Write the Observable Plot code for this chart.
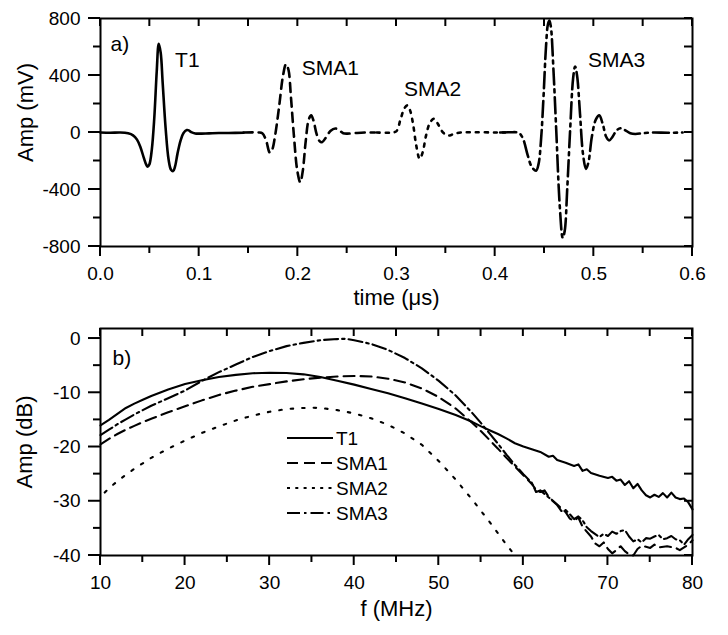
<!DOCTYPE html>
<html><head><meta charset="utf-8">
<script src="https://cdn.jsdelivr.net/npm/d3@7"></script>
<script src="https://cdn.jsdelivr.net/npm/@observablehq/plot@0.6"></script>
<style>
body{margin:0;background:#fff;}
#chart{position:relative;width:728px;height:635px;font-family:"Liberation Sans",Arial,Helvetica,sans-serif;}
#chart svg{display:block;}
</style></head><body><div id="chart"></div>
<script>
// ---------- Panel a): time waveforms (time in µs, amplitude in mV) ----------
const waveT1 = [[0,0],[0.010,-2],[0.020,0],[0.028,-6],[0.033,-20],[0.037,-50],[0.0405,-103],[0.044,-180],[0.0465,-228],[0.0478,-240],[0.0495,-225],[0.052,-120],[0.0545,100],[0.057,430],[0.059,622],[0.061,560],[0.063,350],[0.066,30],[0.069,-190],[0.0715,-262],[0.0736,-271],[0.0755,-240],[0.078,-150],[0.081,-60],[0.084,-5],[0.0875,17],[0.0895,15],[0.092,2],[0.096,-7],[0.10,-8],[0.11,-6],[0.12,-4],[0.13,-3],[0.145,-2]];
const waveSMA1 = [[0.145,0],[0.160,0],[0.164,-5],[0.168,-60],[0.1715,-140],[0.174,-120],[0.177,-20],[0.181,180],[0.185,400],[0.188,480],[0.1905,440],[0.193,250],[0.196,-20],[0.1995,-270],[0.2025,-350],[0.205,-270],[0.208,-60],[0.211,90],[0.2135,120],[0.216,80],[0.219,-10],[0.222,-60],[0.2245,-68],[0.228,-40],[0.233,10],[0.238,28],[0.242,15],[0.246,-5],[0.25,-8],[0.26,-3],[0.27,0],[0.278,0]];
const waveSMA2 = [[0.28,0],[0.295,0],[0.300,10],[0.304,90],[0.308,170],[0.311,190],[0.314,150],[0.317,50],[0.320,-90],[0.3235,-185],[0.3265,-140],[0.330,-20],[0.334,70],[0.338,96],[0.342,60],[0.346,10],[0.350,-15],[0.354,-21],[0.358,-10],[0.365,0],[0.38,2],[0.40,0],[0.41,0]];
const waveSMA3 = [[0.405,0],[0.415,2],[0.424,-3],[0.428,-40],[0.433,-160],[0.437,-240],[0.4415,-268],[0.444,-220],[0.4465,-50],[0.449,250],[0.4515,600],[0.4535,760],[0.455,785],[0.4565,740],[0.459,450],[0.462,0],[0.4655,-520],[0.4685,-740],[0.4705,-690],[0.473,-400],[0.476,20],[0.479,380],[0.481,463],[0.483,400],[0.486,130],[0.489,-150],[0.492,-255],[0.4945,-210],[0.498,-30],[0.502,90],[0.5055,120],[0.509,60],[0.5125,-30],[0.5155,-56],[0.519,-30],[0.523,15],[0.5275,30],[0.532,15],[0.537,-5],[0.542,-10],[0.55,-5],[0.56,0],[0.575,-2],[0.59,0]];
const waveLabels = [{name:"T1",t:0.088,v:505},{name:"SMA1",t:0.233,v:450},{name:"SMA2",t:0.3365,v:305},{name:"SMA3",t:0.523,v:505}];
const timeMajor = [0,0.1,0.2,0.3,0.4,0.5,0.6];
const timeMinor = [0.05,0.15,0.25,0.35,0.45,0.55];
const mvMajor = [-800,-400,0,400,800];
const mvMinor = [-600,-200,200,600];

// ---------- Panel b): spectra (f in MHz, amplitude in dB) ----------
const specT1 = [[10,-16],[11,-15],[12,-13.9],[13,-12.8],[14,-12],[15,-11.3],[16,-10.6],[17,-10],[18,-9.4],[19,-8.9],[20,-8.4],[22,-7.7],[24,-7.1],[26,-6.7],[28,-6.4],[30,-6.3],[32,-6.35],[34,-6.6],[36,-7.1],[38,-7.8],[40,-8.5],[42,-9.3],[44,-10.1],[46,-11],[48,-12],[50,-13],[52,-14.1],[54,-15.4],[55,-16.2],[56,-16.9],[57,-17.6],[58,-18.4],[59,-19.3],[60,-19.9],[61,-20.4],[62,-20.9],[63,-21.8],[63.5,-21.6],[64,-22.4],[65,-22.9],[66,-23.5],[66.5,-23.2],[67,-24.4],[67.5,-24.1],[68,-24.8],[69,-25.3],[70,-25.7],[70.5,-25.5],[71,-26.2],[71.5,-26],[72,-27],[72.5,-26.3],[73,-27.6],[73.5,-26.8],[74,-28],[74.5,-28.9],[75,-29.3],[75.5,-28.8],[76,-29.2],[76.5,-28.5],[77,-29.3],[77.5,-28.4],[78,-29.3],[78.5,-29.6],[79,-29.5],[79.5,-30.2],[80,-31.5]];
const specSMA1 = [[10,-19.5],[11,-18.5],[12,-17.6],[13,-16.8],[14,-16.1],[15,-15.4],[16,-14.8],[18,-13.6],[20,-12.5],[22,-11.4],[24,-10.4],[26,-9.6],[28,-8.9],[30,-8.4],[32,-7.9],[34,-7.5],[36,-7.2],[38,-7.0],[40,-6.9],[42,-7.0],[44,-7.4],[46,-8.1],[48,-9.2],[50,-10.8],[52,-12.9],[54,-15.6],[55,-17.1],[56,-18.7],[57,-20.3],[58,-22],[59,-23.6],[60,-25.2],[61,-26.8],[61.5,-27.9],[62,-28.3],[62.5,-28],[63,-29.2],[64,-30.6],[65,-32],[65.5,-33.2],[66,-33.6],[66.5,-33],[67,-34.7],[68,-36.5],[68.5,-37.8],[69,-38.3],[69.5,-37.6],[70,-38.8],[70.5,-39.6],[71,-39],[71.5,-38.3],[72,-39.2],[72.5,-39.8],[73,-40],[73.5,-38.8],[74,-38.2],[75,-38.6],[75.5,-38],[76,-38.5],[77,-38.3],[78,-38.6],[78.5,-39],[79,-38.5],[79.5,-38],[80,-37.2]];
const specSMA2 = [[10.5,-28.4],[11,-27.6],[12,-26.3],[13,-25.1],[14,-24],[15,-23],[16,-22],[18,-20.3],[20,-18.8],[22,-17.4],[24,-16.2],[26,-15.1],[28,-14.2],[30,-13.5],[32,-13],[34,-12.8],[35,-12.75],[36,-12.8],[38,-13.2],[40,-13.8],[42,-14.7],[44,-15.9],[46,-17.5],[48,-19.6],[50,-22.6],[52,-26],[54,-29.8],[56,-33.8],[58,-38],[58.6,-39.2]];
const specSMA3 = [[10,-17.8],[11,-16.8],[12,-15.8],[13,-14.9],[14,-14],[15,-13.2],[16,-12.4],[18,-11],[20,-9.6],[22,-7.8],[24,-6.2],[26,-4.8],[28,-3.4],[30,-2.3],[32,-1.4],[34,-0.8],[36,-0.3],[38,-0.1],[39,-0.05],[40,-0.3],[42,-1],[44,-2.1],[46,-3.6],[48,-5.5],[50,-7.8],[52,-10.5],[54,-13.8],[55,-15.6],[56,-17.5],[57,-19.4],[58,-21.4],[59,-23.3],[60,-25],[61,-26.6],[61.5,-28.3],[62,-28],[63,-29.3],[63.5,-30],[64,-30.7],[64.5,-31.8],[65,-31.6],[65.5,-32.4],[66,-33.3],[66.5,-32.8],[67,-33.5],[67.5,-34.8],[68,-35.5],[69,-36.6],[69.5,-36],[70,-36.4],[70.5,-35.6],[71,-36],[71.5,-35.5],[72,-35.3],[72.5,-36.5],[73,-37.4],[73.5,-37],[74,-37.6],[74.5,-36.8],[75,-36.9],[75.5,-36.5],[76,-36.2],[76.5,-37],[77,-36.8],[77.5,-36.4],[78,-37],[78.5,-37.2],[79,-38],[79.5,-37],[80,-36.2]];
const freqMajor = [10,20,30,40,50,60,70,80];
const freqMinor = [15,25,35,45,55,65,75];
const dbMajor = [-40,-30,-20,-10,0];
const dbMinor = [-35,-25,-15,-5];
const seriesNames = ["T1","SMA1","SMA2","SMA3"];

// ---------- styles ----------
const FONT = '"Liberation Sans", Arial, Helvetica, sans-serif';
const dashTop = {T1:null, SMA1:"9,6", SMA2:"3,6", SMA3:"16,5,3,5"};
const dashBot = {T1:null, SMA1:"11,6", SMA2:"2.5,9", SMA3:"14,4,2.5,4"};
const W = 728, ML = 100, MR = 36, HA = 320, HB = 315;

function labelAxes(xMajor, yMajor, xFmt, yFmt) {
  return [
    Plot.axisX(xMajor, {anchor:"bottom", tickSize:0, tickPadding:20, tickFormat:xFmt, label:null, fontSize:19}),
    Plot.axisY(yMajor, {anchor:"left", tickSize:0, tickPadding:20, tickFormat:yFmt, label:null, fontSize:19}),
    Plot.frame({stroke:"black", strokeWidth:2})
  ];
}

const waves = {T1:waveT1, SMA1:waveSMA1, SMA2:waveSMA2, SMA3:waveSMA3};
const specs = {T1:specT1, SMA1:specSMA1, SMA2:specSMA2, SMA3:specSMA3};

const plotA = Plot.plot({
  width:W, height:HA,
  marginLeft:ML, marginRight:MR, marginTop:18, marginBottom:74,
  style:{fontFamily:FONT, fontSize:"19px", color:"black", background:"white"},
  x:{domain:[0,0.6]},
  y:{domain:[-800,800]},
  marks:[
    ...seriesNames.map(n => Plot.line(waves[n], {x:d=>d[0], y:d=>d[1], stroke:"black", strokeWidth:2.6, curve:"catmull-rom", strokeDasharray:dashTop[n]})),
    Plot.text(waveLabels, {x:"t", y:"v", text:"name", fontSize:21, textAnchor:"middle"}),
    Plot.text(["a)"], {frameAnchor:"top-left", dx:10, dy:18, fontSize:21, textAnchor:"start", lineAnchor:"top"}),
    Plot.text(["time (\u03bcs)"], {frameAnchor:"bottom", dy:51, fontSize:22, lineAnchor:"middle"}),
    Plot.text(["Amp (mV)"], {frameAnchor:"left", dx:-75, dy:-20, rotate:-90, fontSize:22, textAnchor:"middle", lineAnchor:"middle"}),
    ...labelAxes(timeMajor, mvMajor, d3.format(".1f"), d => String(d))
  ]
});

const plotB = Plot.plot({
  width:W, height:HB,
  marginLeft:ML, marginRight:MR, marginTop:8, marginBottom:80,
  style:{fontFamily:FONT, fontSize:"19px", color:"black", background:"white"},
  x:{domain:[10,80]},
  y:{domain:[-40,1.85]},
  marks:[
    ...seriesNames.map(n => Plot.line(specs[n], {x:d=>d[0], y:d=>d[1], stroke:"black", strokeWidth:2.1, curve:"linear", strokeDasharray:dashBot[n]})),
    Plot.text(["b)"], {frameAnchor:"top-left", dx:12, dy:22, fontSize:21, textAnchor:"start", lineAnchor:"top"}),
    Plot.text(["f (MHz)"], {frameAnchor:"bottom", dy:53, fontSize:22, lineAnchor:"middle"}),
    Plot.text(["Amp (dB)"], {frameAnchor:"left", dx:-76, rotate:-90, fontSize:22, textAnchor:"middle", lineAnchor:"middle"}),
    ...labelAxes(freqMajor, dbMajor, d => String(d), d => String(d))
  ]
});

const chart = document.getElementById("chart");
chart.appendChild(plotA);
chart.appendChild(plotB);

// ---------- tick marks: overlay layer, positions from each plot's own scales ----------
const overlay = d3.select(chart).append("svg")
  .attr("width", W).attr("height", HA + HB)
  .style("position","absolute").style("left","0px").style("top","0px")
  .style("pointer-events","none");
function addTicks(node, offsetY, xMajor, xMinor, yMajor, yMinor) {
  const sx = node.scale("x"), sy = node.scale("y");
  const X = v => sx.apply(v), Y = v => sy.apply(v) + offsetY;
  const xl = X(sx.domain[0]), xr = X(sx.domain[1]);
  const yb = Y(sy.domain[0]), yt = Y(sy.domain[1]);
  const g = overlay.append("g").attr("stroke", "black").attr("stroke-width", 2);
  const seg = (a, b, c, d) => g.append("line").attr("x1", a).attr("y1", b).attr("x2", c).attr("y2", d);
  xMajor.forEach(v => seg(X(v), yb, X(v), yb + 10));
  xMinor.forEach(v => seg(X(v), yb, X(v), yb + 7));
  [...xMajor, ...xMinor].forEach(v => seg(X(v), yt, X(v), yt + 8));
  yMajor.forEach(v => seg(xl, Y(v), xl - 12, Y(v)));
  yMinor.forEach(v => seg(xl, Y(v), xl - 7, Y(v)));
  [...yMajor, ...yMinor].forEach(v => seg(xr, Y(v), xr - 8, Y(v)));
}
addTicks(plotA, 0, timeMajor, timeMinor, mvMajor, mvMinor);
addTicks(plotB, HA, freqMajor, freqMinor, dbMajor, dbMinor);

// ---------- legend for panel b) ----------
const legendDash = {T1:null, SMA1:"11,6", SMA2:"3,5.3", SMA3:"13,4,2.5,4"};
const leg = d3.select(chart).append("svg")
  .attr("width", 160).attr("height", 110)
  .style("position","absolute").style("left","280px").style("top","425px");
seriesNames.forEach((n, i) => {
  const y = 13 + i * 25;
  leg.append("line").attr("x1", 7).attr("x2", 53).attr("y1", y).attr("y2", y)
    .attr("stroke","black").attr("stroke-width", 2.1)
    .attr("stroke-dasharray", legendDash[n]);
  leg.append("text").attr("x", 56).attr("y", y).attr("dy","0.35em")
    .attr("font-family", FONT).attr("font-size", 19).attr("fill","black").text(n);
});
</script></body></html>
